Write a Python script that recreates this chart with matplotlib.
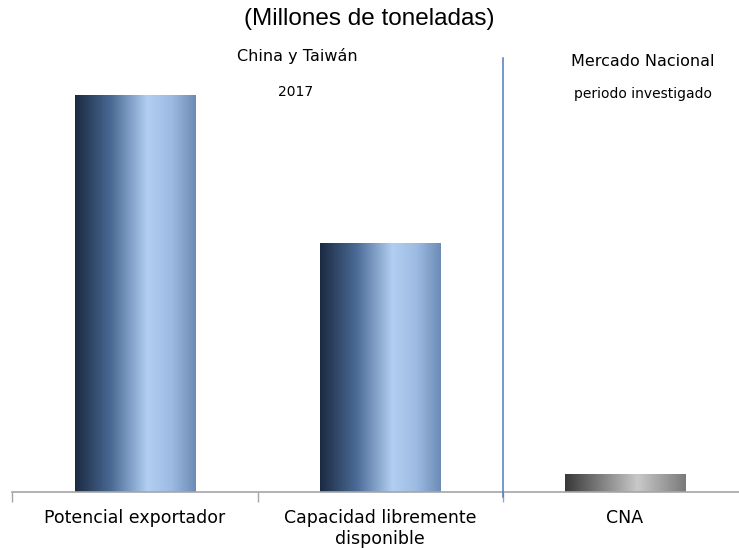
import numpy as np
import matplotlib
matplotlib.use('Agg')
import matplotlib.pyplot as plt
from matplotlib.colors import LinearSegmentedColormap

plt.rcParams['font.family'] = ['Liberation Sans', 'DejaVu Sans']

categorias = ['Potencial exportador', 'Capacidad libremente\ndisponible', 'CNA']
valores = [16.0, 10.0, 0.7]
grupos = ['China y Taiwán', 'Mercado Nacional']
subtitulos = ['2017', 'periodo investigado']

W, H = 739, 548
fig = plt.figure(figsize=(W / 100, H / 100), dpi=100)


def px(x, y):
    # pixel coords (top-left origin) -> figure fraction
    return x / W, 1 - y / H


ax_left, ax_right = 12, 739
ax_bottom, ax_top = 492, 58
ax = fig.add_axes([ax_left / W, 1 - ax_bottom / H,
                   (ax_right - ax_left) / W, (ax_bottom - ax_top) / H])

azul = LinearSegmentedColormap.from_list('azul', [
    (0.0, '#1b2a42'), (0.3, '#4a6a95'), (0.6, '#b2cff2'),
    (0.8, '#9dbbe2'), (1.0, '#6c8cb6')])
gris = LinearSegmentedColormap.from_list('gris', [
    (0.0, '#383838'), (0.6, '#c9c9c9'), (1.0, '#7a7a7a')])
mapas = [azul, azul, gris]

ancho = 0.49
grad = np.linspace(0, 1, 256).reshape(1, -1)
for i, (v, cm) in enumerate(zip(valores, mapas)):
    ax.imshow(grad, extent=[i - ancho / 2, i + ancho / 2, 0, v],
              aspect='auto', cmap=cm, origin='lower', zorder=2)

ytop = valores[0] * (ax_bottom - ax_top) / (ax_bottom - 95)
ax.set_xlim(-0.502, 2.465)
ax.set_ylim(0, ytop)

for s in ['top', 'right', 'left']:
    ax.spines[s].set_visible(False)
ax.spines['bottom'].set_color('#a6a6a6')
ax.spines['bottom'].set_linewidth(1.2)
ax.set_yticks([])

ax.set_xticks([-0.5, 0.5, 1.5])
ax.set_xticklabels([])
ax.tick_params(axis='x', which='major', length=7, color='#a6a6a6', width=1)
ax.set_xticks([0, 1, 2], minor=True)
ax.set_xticklabels(categorias, minor=True, fontsize=12.5,
                   family='DejaVu Sans', linespacing=1.25)
ax.tick_params(axis='x', which='minor', length=0, pad=12)

# separator line
ax.plot([1.5, 1.5], [-0.2, ytop], color='#4a7cc4', lw=1.1,
        clip_on=False, zorder=3)

fig.text(*px(369, 19), '(Millones de toneladas)', ha='center', va='center',
         fontsize=17.5)
fig.text(*px(297, 56), grupos[0], ha='center', va='center', fontsize=11.5,
         family='DejaVu Sans')
fig.text(*px(296, 92), subtitulos[0], ha='center', va='center', fontsize=10,
         family='DejaVu Sans')
fig.text(*px(643, 61), grupos[1], ha='center', va='center', fontsize=11.5,
         family='DejaVu Sans')
fig.text(*px(643, 94), subtitulos[1], ha='center', va='center', fontsize=10,
         family='DejaVu Sans')

fig.savefig('out.png', dpi=100)
